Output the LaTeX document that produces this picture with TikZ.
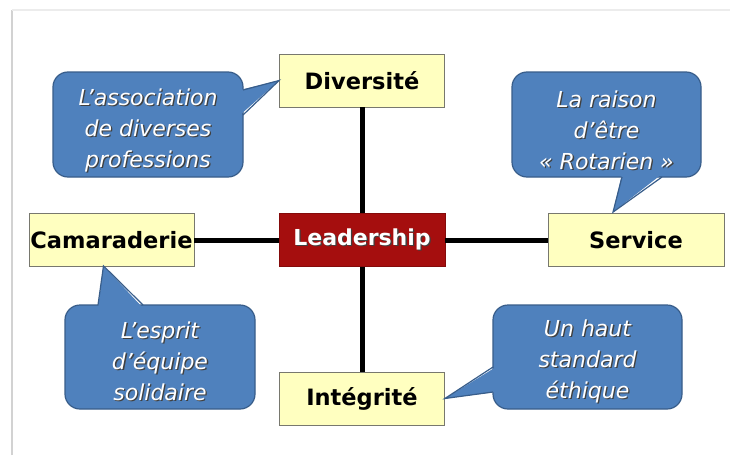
\documentclass[tikz,border=0pt]{standalone}
\usepackage{fontspec}
\setmainfont{DejaVu Sans}
\usetikzlibrary{calc}
\definecolor{ylw}{RGB}{255,255,192}
\definecolor{bub}{RGB}{79,129,189}
\definecolor{bubd}{RGB}{56,93,138}
\definecolor{lred}{RGB}{165,14,14}
\definecolor{edge}{RGB}{120,120,110}
\newcommand\shd[1]{\leavevmode\rlap{\kern1.3pt\raisebox{-1.3pt}{\textcolor{black!75}{#1}}}#1}
\begin{document}
\begin{tikzpicture}[x=1pt,y=-1pt,
  box/.style={draw=edge, line width=0.8pt, fill=ylw, minimum width=165pt, minimum height=53pt, inner sep=0pt, font=\bfseries\fontsize{22.5}{26}\selectfont, text=black},
  leadbox/.style={draw=lred!80!black, line width=0.8pt, fill=lred, minimum width=166pt, minimum height=53pt, inner sep=0pt, font=\bfseries\fontsize{22}{26}\selectfont, text=white},
  bubble/.style={draw=bubd, fill=bub, line width=1.2pt, rounded corners=15pt},
  tailfill/.style={fill=bub},
  tailedge/.style={draw=bubd, line width=1.2pt, line join=miter},
  btext/.style={text=white, align=center, inner sep=0pt, font=\itshape\fontsize{22}{31}\selectfont},
  link/.style={line width=5pt, black}]
\useasboundingbox (0,0) rectangle (730,455);
\fill[white] (0,0) rectangle (730,455);
% page edges
\draw[gray!35, line width=2.5pt] (12,455) -- (12,10);
\draw[gray!15, line width=1.5pt] (12,10) -- (730,10);

% main nodes
\node[box] (div) at (362,80.5) {Diversité};
\node[leadbox] (lead) at (362,240) {\shd{Leadership}};
\node[box] (cam) at (111.5,240) {Camaraderie};
\node[box, minimum width=176pt] (serv) at (636,240) {Service};
\node[box] (integ) at (362,398.5) {Intégrité};

% links
\draw[link] (div) -- (lead);
\draw[link] (lead) -- (integ);
\draw[link] (cam) -- (lead);
\draw[link] (lead) -- (serv);

% callouts
\coordinate (tipTR) at ($(serv.north)+(-23,-1)$);
\coordinate (tipBL) at ($(cam.south)+(-8,-1)$);

% top left
\draw[bubble] (53,72) rectangle (243,177);
\fill[tailfill] (240,90) -- (div.west) -- (240,115) -- cycle;
\draw[tailedge] (243,90) -- (div.west) -- (243,115);
% top right
\draw[bubble] (512,72) rectangle (701,177);
\fill[tailfill] (662,174) -- (tipTR) -- (622,174) -- cycle;
\draw[tailedge] (662,177) -- (tipTR) -- (622,177);
% bottom left
\draw[bubble] (65,305) rectangle (255,409);
\fill[tailfill] (98,308) -- (tipBL) -- (143,308) -- cycle;
\draw[tailedge] (98,305) -- (tipBL) -- (143,305);
% bottom right
\draw[bubble] (493,305) rectangle (682,409);
\fill[tailfill] (496,367) -- (integ.east) -- (496,392) -- cycle;
\draw[tailedge] (493,367) -- (integ.east) -- (493,392);

\node[btext] (t1) at (148,131) {\shd{L’association}\\\shd{de diverses}\\\shd{professions}};
\node[btext] (t2) at (606.5,131) {\shd{La raison}\\\shd{d’être}\\\shd{« Rotarien »}};
\node[btext] (t3) at (160,362) {\shd{L’esprit}\\\shd{d’équipe}\\\shd{solidaire}};
\node[btext] (t4) at (587.5,362) {\shd{Un haut}\\\shd{standard}\\\shd{éthique}};
\end{tikzpicture}
\end{document}
